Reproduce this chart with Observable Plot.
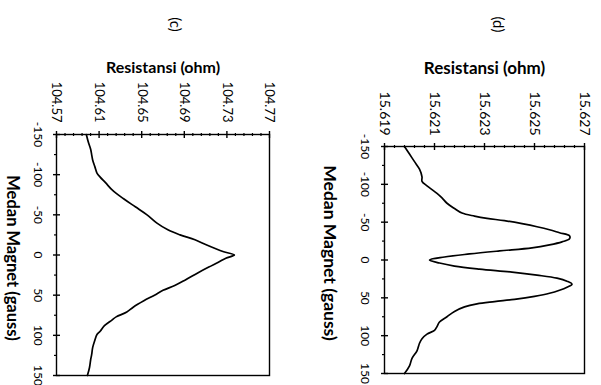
<!DOCTYPE html>
<html><head><meta charset="utf-8">
<script src="https://cdn.jsdelivr.net/npm/d3@7"></script>
<script src="https://cdn.jsdelivr.net/npm/@observablehq/plot@0.6"></script>
<style>
body{margin:0;background:#fff;}
#wrap{position:relative;width:601px;height:385px;overflow:hidden;background:#fff;}
#wrap svg{position:absolute;top:0;}
</style></head><body><div id="wrap"></div>
<script>
// Field (gauss) ticks, shared by both panels
const fieldTicks = [-150, -100, -50, 0, 50, 100, 150];
const fieldMinor = [-125, -75, -25, 25, 75, 125];

// Panel (c)
const resTicksC = [104.57, 104.61, 104.65, 104.69, 104.73, 104.77];
const fieldC = [-150, -140, -132, -125, -118, -110, -102, -97, -90, -80, -70, -60, -50, -40, -31, -25, -19, -13, -8, -4, 0, 4, 9, 15, 22, 31, 38, 44, 50, 57, 65, 71, 77, 81, 88, 95, 99, 106, 115, 124, 131, 140, 150];
const resC = [104.598, 104.600, 104.602, 104.603, 104.604, 104.606, 104.608, 104.611, 104.616, 104.623, 104.633, 104.644, 104.655, 104.664, 104.675, 104.686, 104.700, 104.710, 104.719, 104.727, 104.737, 104.729, 104.722, 104.713, 104.703, 104.691, 104.681, 104.670, 104.662, 104.652, 104.642, 104.636, 104.626, 104.622, 104.615, 104.611, 104.608, 104.606, 104.604, 104.603, 104.602, 104.601, 104.599];

// Panel (d)
const resTicksD = [15.619, 15.621, 15.623, 15.625, 15.627];
const fieldD = [-150, -140, -130, -120, -110, -104, -98, -93, -88, -82, -75, -68, -62, -58, -55, -52, -48, -44, -40, -36, -32, -28, -24, -20, -16, -12, -8, -4, 0, 4, 8, 12, 16, 20, 24, 28, 32, 36, 40, 44, 48, 52, 55, 58, 62, 68, 75, 82, 88, 93, 98, 104, 110, 120, 130, 140, 150];
const resD = [15.6198, 15.6200, 15.6202, 15.6204, 15.6205, 15.6205, 15.6207, 15.6209, 15.6211, 15.6213, 15.6215, 15.6218, 15.6221, 15.6226, 15.6231, 15.6238, 15.6245, 15.6251, 15.6256, 15.6260, 15.6264, 15.6264, 15.6261, 15.6256, 15.6249, 15.6236, 15.6224, 15.6214, 15.6208, 15.6212, 15.6218, 15.6228, 15.6241, 15.6251, 15.6259, 15.6263, 15.6265, 15.6263, 15.6260, 15.6256, 15.6250, 15.6242, 15.6234, 15.6227, 15.6222, 15.6218, 15.6215, 15.6212, 15.6211, 15.6210, 15.6207, 15.6205, 15.6204, 15.6203, 15.6201, 15.6200, 15.6198];

const FONT = "Lato, 'DejaVu Sans', sans-serif";

function minorsOf(ticks) {
  const out = [];
  for (let i = 0; i < ticks.length - 1; i++) {
    const step = (ticks[i + 1] - ticks[i]) / 5;
    for (let k = 1; k < 5; k++) out.push(ticks[i] + k * step);
  }
  return out;
}

function panel(o) {
  const H = 385 - o.marginTop - o.marginBottom;
  const W = o.width - o.marginLeft - o.marginRight;
  const data = o.field.map((f, i) => ({f, r: o.res[i]}));
  const svg = Plot.plot({
    width: o.width, height: 385,
    marginLeft: o.marginLeft, marginRight: o.marginRight,
    marginTop: o.marginTop, marginBottom: o.marginBottom,
    style: {fontFamily: FONT, background: "transparent", overflow: "visible", color: "#000"},
    x: {domain: [o.ticks[0], o.ticks[o.ticks.length - 1]]},
    y: {domain: [-150, 150], reverse: true},
    marks: [
      Plot.frame({stroke: "#000", strokeWidth: 1.4}),
      Plot.axisX({anchor: "top", ticks: o.ticks, tickFormat: o.fmt, tickRotate: 90, tickSize: 0,
        tickPadding: o.padX, textAnchor: "end", lineAnchor: "middle", fontSize: o.fsX, label: null}),
      Plot.tickX(o.ticks, {x: d => d, insetBottom: H - 7, dy: -3, stroke: "#000", strokeWidth: 1.4}),
      Plot.tickX(minorsOf(o.ticks), {x: d => d, insetBottom: H - 3, dy: -1, stroke: "#000", strokeWidth: 1.2}),
      Plot.axisY({anchor: "left", ticks: fieldTicks, tickFormat: d => String(d), tickRotate: 90, tickSize: 0,
        tickPadding: o.padY, textAnchor: "middle", lineAnchor: "top", fontSize: o.fsY, label: null}),
      Plot.tickY(fieldTicks, {y: d => d, insetRight: W - 7, dx: -3, stroke: "#000", strokeWidth: 1.4}),
      Plot.tickY(fieldMinor, {y: d => d, insetRight: W - 3, dx: -2, stroke: "#000", strokeWidth: 1.2}),
      Plot.line(data, {x: "r", y: "f", curve: "catmull-rom", stroke: "#000", strokeWidth: 1.7}),
      Plot.text(["Resistansi (ohm)"], {frameAnchor: "top", dy: o.titleDy, textAnchor: "middle", lineAnchor: "middle",
        fontSize: o.fsT, fontWeight: "bold", fill: "#000", letterSpacing: "0.6px"}),
      Plot.text(["Medan Magnet (gauss)"], {frameAnchor: "left", dx: o.labDx, dy: o.labDy, rotate: 90,
        textAnchor: "middle", lineAnchor: "middle",
        fontSize: o.fsL, fontWeight: "bold", fill: "#000", letterSpacing: "1.3px"}),
      Plot.text([o.tag], {frameAnchor: "top", dx: o.tagDx, dy: o.tagDy, rotate: 90,
        textAnchor: "middle", lineAnchor: "middle", fontSize: 15, fill: "#000"})
    ]
  });
  svg.style.left = o.left + "px";
  document.getElementById("wrap").appendChild(svg);
}

panel({left: 0, width: 300, marginLeft: 56, marginRight: 31, marginTop: 134, marginBottom: 10,
  ticks: resTicksC, fmt: d3.format(".2f"), field: fieldC, res: resC,
  padX: 12, padY: 14, fsX: 13, fsY: 12, fsT: 16, fsL: 16.5,
  titleDy: -67, labDx: -44, labDy: 3, tag: "(c)", tagDx: 12, tagDy: -110});

panel({left: 300, width: 301, marginLeft: 84, marginRight: 17, marginTop: 146, marginBottom: 12,
  ticks: resTicksD, fmt: d3.format(".3f"), field: fieldD, res: resD,
  padX: 11, padY: 15, fsX: 14, fsY: 12, fsT: 17, fsL: 17.5,
  titleDy: -78, labDx: -55, labDy: -7, tag: "(d)", tagDx: 13, tagDy: -122});
</script></body></html>
